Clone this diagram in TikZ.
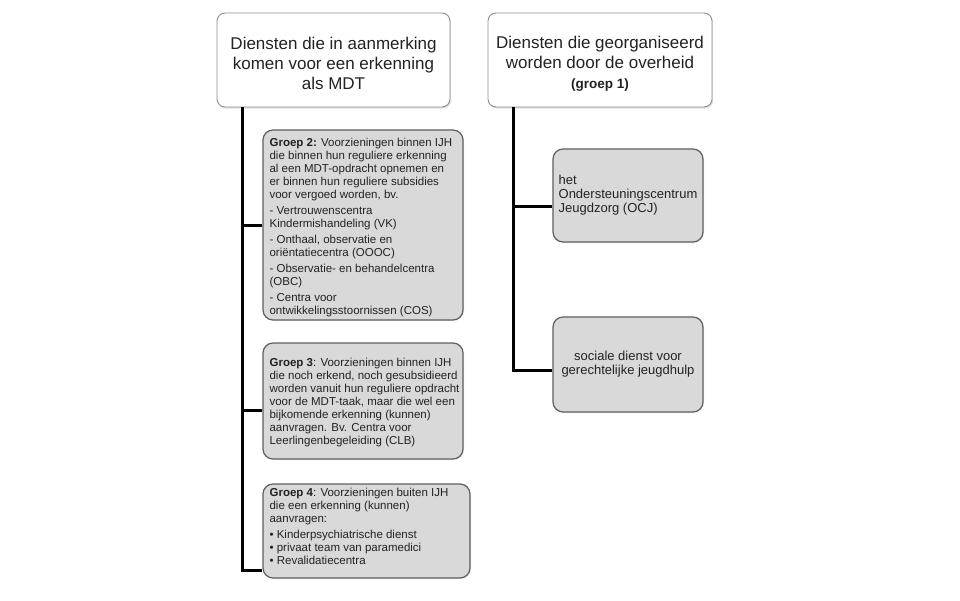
\documentclass[tikz,border=0pt]{standalone}
\usepackage{fontspec}
\setmainfont{Liberation Sans}
\usetikzlibrary{shadows}
\definecolor{boxgray}{HTML}{D9D9D9}
\definecolor{edgegray}{HTML}{5F5F5F}
\definecolor{topedge}{HTML}{8F8F8F}
\definecolor{inkgray}{HTML}{222222}
\begin{document}
\begin{tikzpicture}[x=1pt,y=-1pt,
  topbox/.style={draw=topedge, line width=0.9pt, fill=white, rounded corners=8pt,
    drop shadow={shadow xshift=1.2pt, shadow yshift=-1.5pt, opacity=0.25},
    align=center, inner sep=0pt, text=inkgray, font=\fontsize{17}{19}\selectfont},
  graybox/.style={draw=edgegray, line width=1.2pt, fill=boxgray, rounded corners=10pt,
    inner sep=0pt, text=inkgray, font=\fontsize{13}{14}\selectfont,
    drop shadow={shadow xshift=1pt, shadow yshift=-1pt, opacity=0.15}},
  boxtext/.style={anchor=north west, align=left, inner sep=0pt, text=inkgray,
    font=\fontsize{11.5}{13}\selectfont},
  conn/.style={line width=3pt, black}]
\useasboundingbox (0,0) rectangle (960,600);
\fill[white] (0,0) rectangle (960,600);

% top boxes
\node[topbox, minimum width=233pt, minimum height=94pt] (TL) at (333.5,60)
  {\rule{0pt}{20pt}Diensten die in aanmerking\\[1pt]komen voor een erkenning\\[1pt]als MDT};
\node[topbox, minimum width=224pt, minimum height=94pt] (TR) at (600,60)
  {\rule{0pt}{20pt}Diensten die georganiseerd\\[1pt]worden door de overheid\\[1pt]{\fontsize{13.5}{19}\selectfont\bfseries (groep 1)}};

% left column boxes
\node[graybox, minimum width=200pt, minimum height=190pt] (G2) at (363,225) {};
\node[graybox, minimum width=200pt, minimum height=116pt] (G3) at (363,401) {};
\node[graybox, minimum width=207pt, minimum height=94pt] (G4) at (366.5,531) {};

\node[boxtext, xshift=7pt, yshift=-9pt] (G2t) at (G2.north west)
  {\textbf{Groep 2:} Voorzieningen binnen IJH\\
   die binnen hun reguliere erkenning\\
   al een MDT-opdracht opnemen en\\
   er binnen hun reguliere subsidies\\
   voor vergoed worden, bv.\\[3pt]
   - Vertrouwenscentra\\
   Kindermishandeling (VK)\\[3pt]
   - Onthaal, observatie en\\
   oriëntatiecentra (OOOC)\\[3pt]
   - Observatie- en behandelcentra\\
   (OBC)\\[3pt]
   - Centra voor\\
   ontwikkelingsstoornissen (COS)};
\node[boxtext, xshift=7pt, yshift=-16pt] (G3t) at (G3.north west)
  {\textbf{Groep 3}: Voorzieningen binnen IJH\\
   die noch erkend, noch gesubsidieerd\\
   worden vanuit hun reguliere opdracht\\
   voor de MDT-taak, maar die wel een\\
   bijkomende erkenning (kunnen)\\
   aanvragen. Bv. Centra voor\\
   Leerlingenbegeleiding (CLB)};
\node[boxtext, xshift=7pt, yshift=-5pt] (G4t) at (G4.north west)
  {\textbf{Groep 4}: Voorzieningen buiten IJH\\
   die een erkenning (kunnen)\\
   aanvragen:\\[3pt]
   • Kinderpsychiatrische dienst\\
   • privaat team van paramedici\\
   • Revalidatiecentra};

% right column boxes
\node[graybox, minimum width=150pt, minimum height=93pt, align=left] (OCJ) at (628,195.5)
  {het\\Ondersteuningscentrum\\Jeugdzorg (OCJ)};
\node[graybox, minimum width=150pt, minimum height=95pt, align=center] (SOC) at (628,364.5)
  {sociale dienst voor\\gerechtelijke jeugdhulp};

% connectors
\coordinate (bL2) at (242,225);
\coordinate (bL3) at (242,410);
\coordinate (bL4) at (242,570);
\coordinate (bR1) at (513,206);
\coordinate (bR2) at (513,370);

\draw[conn] (TL.south -| bL2) -- (bL4) -- (bL4 -| G4.west);
\draw[conn] (bL2) -- (bL2 -| G2.west);
\draw[conn] (bL3) -- (bL3 -| G3.west);
\draw[conn] (TR.south -| bR1) -- (bR2) -- (bR2 -| SOC.west);
\draw[conn] (bR1) -- (bR1 -| OCJ.west);
\end{tikzpicture}
\end{document}
